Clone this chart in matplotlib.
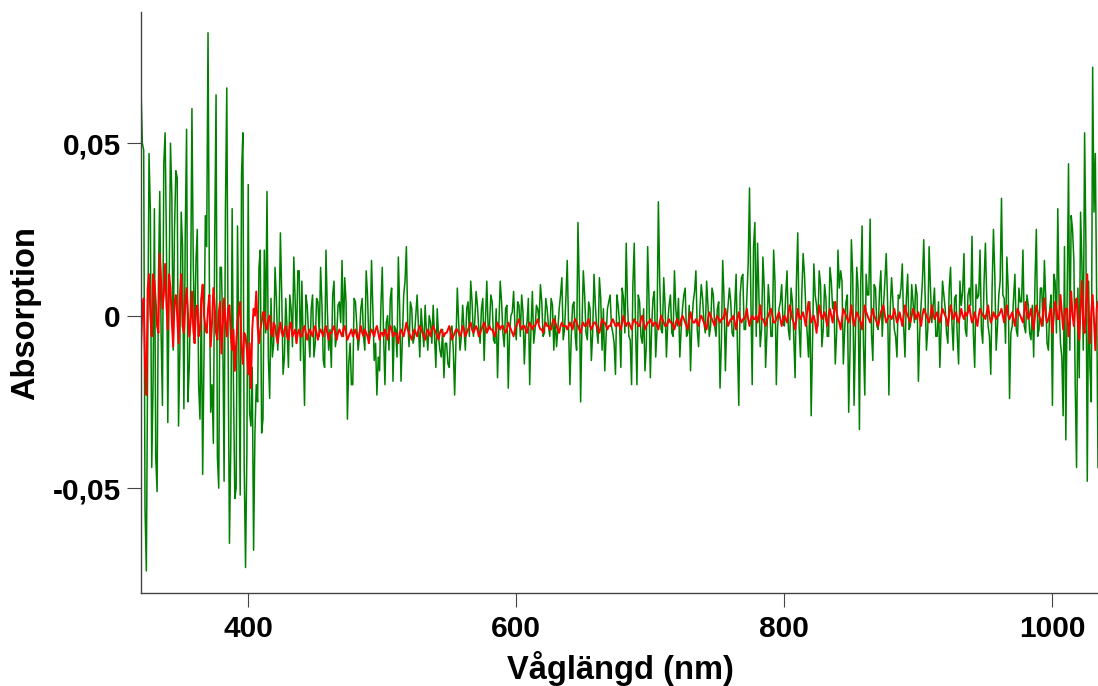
import numpy as np
import matplotlib
matplotlib.use("Agg")
import matplotlib.pyplot as plt
from matplotlib.ticker import FixedLocator, FixedFormatter

# ---- data: absorbance in units of 0.001, one value per nm from 320 to 1034 nm ----
# "even" lists hold 320, 322, ... nm ; "odd" lists hold 321, 323, ... nm
wl_start, wl_stop = 320, 1034

green_320 = [66, 48, -74, 47, -44, 31, -51, 36, -26, 53,
             -31, 50, -10, 42, -32, 30, -27, 54, -15, 60,
             -8, 25, -30, -46, 29, 82, -28, -37, 64, -50,
             14, -48, 66, -66, 31, -53, 26, -52, 53, -73]
green_400 = [38, -32, -68, -20, 14, -34, 19, 36, -24, -12,
             14, -10, 24, -17, 5, -15, 2, 17, -8, 13,
             10, -26, 3, -12, 6, -8, 4, 14, -13, 19,
             -10, -15, 10, -6, 4, 16, 11, -30, -8, -20]
green_480 = [4, -10, 2, -6, 13, -8, 16, -13, -23, -16,
             14, -20, 0, 5, -19, -4, 17, -19, 6, 20,
             -9, 2, -6, 6, -12, -4, 3, -10, -2, 3,
             -15, -6, -12, -18, -8, -15, -3, -23, 8, -10]
green_560 = [3, -10, 4, 10, -6, 7, -4, 2, -13, 10,
             -3, 4, -8, -18, 10, -5, 2, -21, 0, 7,
             -7, 3, 6, -14, -2, -20, 7, -4, 2, 9,
             -6, 5, -3, 5, -10, -9, 2, 11, -4, 16]
green_640 = [-20, 3, -6, 27, -25, 13, -5, 4, -13, 12,
             -4, 11, -10, -16, 2, 6, -5, -17, 3, -15,
             5, 21, -6, -20, 21, -20, 4, -8, -16, 20,
             -18, 5, -12, 33, -4, 11, -12, 3, -5, 13]
green_720 = [-3, -12, 2, 8, -5, -16, 4, 13, -9, 9,
             -2, 10, -6, 8, -3, 2, -21, 16, -16, 3,
             4, -6, 12, -26, 11, -4, 5, 37, -20, 27,
             21, -9, 17, -15, 9, -6, 19, -20, 2, 9]
green_800 = [-3, 13, -7, 4, -18, 24, -12, 18, 2, -12,
             -29, 15, 3, 13, -9, 9, -6, 14, 2, -14,
             19, 13, -14, 4, -28, 22, -26, 14, -33, 26,
             -23, 6, 28, -13, 8, -4, 13, 3, 18, -23]
green_880 = [11, -4, -12, 5, 15, -12, 12, -3, 4, 9,
             -19, 3, 22, -10, 20, -2, 8, -6, -15, 10,
             2, -8, 14, -10, 6, -14, 3, 18, -6, 8,
             23, -15, 5, 19, -8, 21, -3, -17, 25, -10]
green_960 = [6, 34, 5, 17, -24, -3, 12, -6, 4, 19,
             -5, 3, -7, -12, 25, -4, 8, 16, -8, 2,
             -26, 10, 31, -8, -29, -36, 44, 29, 16, -44,
             -18, 15, 53, -48, -15, 72, 47, -44]

green_321 = [50, -56, -10, 30, -20, -41, 10, -5, 44, 20,
             10, 35, 25, 40, -10, 20, 23, -25, 5, 15,
             16, -20, 5, -12, 20, 10, -20, 22, -41, 14,
             -5, 31, -10, -37, -20, -50, -10, 41, -44, -39]
green_401 = [-28, -15, -34, -25, 19, -30, -5, -12, 5, -8,
             5, -3, 6, -12, -4, 6, -9, 4, 13, -13,
             -8, 6, -5, 2, -12, 5, -6, 3, -15, 2,
             -4, 6, -9, 3, -2, -6, 4, -14, -20, 5]
green_481 = [-3, -6, 5, -10, 6, -4, 2, -8, -12, 3,
             -6, -2, -10, 8, -3, -12, 2, -6, 10, -2,
             4, -8, 0, -3, 2, -9, -5, 0, -8, -6,
             2, -10, -4, -8, -14, -4, -10, -8, -2, -6]
green_561 = [-4, 2, -6, 4, -2, 3, -8, 5, -1, -4,
             6, -7, 2, -3, 4, -9, 3, -5, 1, -3,
             4, -6, 1, -4, 5, -3, -8, 3, -2, 4,
             -5, 2, -6, 3, 0, -4, 6, -7, 5, -3]
green_641 = [-6, 4, -10, 8, -3, 6, -7, 2, -5, 3,
             -8, 5, 2, -6, 4, -3, -8, 6, -2, 8,
             -5, 3, -7, 9, -4, 6, -6, 2, -9, 5,
             -3, 7, -4, 10, -5, 3, -2, 6, -6, 2]
green_721 = [5, -4, 6, -6, 3, -2, 7, -4, 2, 5,
             -5, 3, -3, 6, -6, 4, -8, 5, -2, 8,
             -5, 3, -9, 6, 12, -4, 15, 5, 20, -6,
             6, -4, 8, -5, 3, -6, 10, -3, 4, -2]
green_801 = [6, -4, 8, -6, 10, -3, 6, 12, -5, 4,
             -8, 6, -3, 9, -4, 5, -6, 10, 4, -5,
             8, 10, -4, 6, -10, 12, -6, 8, 10, -8,
             12, 6, -5, 9, -3, 7, -6, 10, 4, 2]
green_881 = [4, -6, 6, 8, -3, 5, -4, 9, -2, 6,
             -5, 10, 6, -4, 8, 3, -6, 4, -3, 6,
             -5, 8, -2, 5, -6, 10, 7, -4, 6, 3,
             -5, 9, 6, -4, 10, 5, -6, 8, 12, -3]
green_961 = [10, 6, -8, 8, -5, 5, -4, 8, 4, -3,
             6, -5, 3, 10, -6, 8, -3, 5, -10, 6,
             12, -5, 3, -12, 20, 6, -10, 25, -20, 8,
             30, -10, 20, 10, -25, 30, 5]

red_320 = [-10, 5, -23, 12, -6, 10, -3, 18, 2, 15,
           -4, 8, -9, 6, -8, 12, -5, 8, -6, 7,
           -8, 3, -4, 9, -3, 2, -9, 8, -5, 1,
           -11, 5, -6, 3, -10, -16, -2, 4, -14, -6]
red_400 = [-17, -21, 2, 7, -8, -2, 1, -4, 0, -6,
           -3, -8, -2, -6, -3, -7, -2, -5, -8, -4,
           -6, -3, -7, -4, -6, -3, -7, -4, -6, -3,
           -7, -5, -3, -7, -4, -6, -3, -7, -5, -6]
red_480 = [-4, -7, -3, -6, -5, -8, -4, -6, -3, -7,
           -5, -4, -7, -3, -6, -5, -8, -4, -6, -2,
           -5, -7, -4, -6, -3, -5, -7, -4, -6, -3,
           -5, -7, -4, -6, -5, -3, -7, -5, -4, -6]
red_560 = [-3, -6, -4, -2, -5, -3, -6, -4, -2, -5,
           -3, -4, -6, -2, -4, -3, -5, -2, -4, -6,
           -3, -1, -4, -3, -5, -2, -4, -3, -1, -4,
           -5, -2, -3, -4, -1, -3, -5, -2, -3, -4]
red_640 = [-2, -4, -1, -3, -5, -2, -3, -1, -4, -2,
           -3, -5, -1, -2, -4, -3, -1, -3, -2, -4,
           0, -3, -2, -4, -1, -2, -3, 0, -4, -2,
           -1, -3, -2, -4, 0, -2, -3, -1, -2, -4]
red_720 = [-1, -3, 0, -2, -4, 1, -2, -1, -3, 0,
           -2, -4, 1, -1, -3, 0, -2, -1, 2, -3,
           -1, 0, -4, 1, -2, -1, 2, -3, 0, -1,
           -2, 3, -1, -3, 0, 2, -2, -1, 1, -3]
red_800 = [0, -2, 3, -1, -4, 2, -1, 1, -3, 4,
           -2, 0, -5, 3, -1, 1, -3, 2, -2, 4,
           -1, -4, 2, 0, -2, 3, -3, 1, -1, -4,
           3, 0, -2, 2, -1, -3, 1, 3, -2, 0]
red_880 = [-1, 2, -2, 1, -3, 3, 0, -2, 2, -1,
           1, -3, 2, 0, -2, 3, -1, 1, -2, 2,
           0, -3, 3, -1, 1, -2, 2, -1, 0, 3,
           -2, 1, -3, 2, 0, -1, 3, -2, 1, -1]
red_960 = [0, 2, -2, 3, -1, 1, -3, 2, 0, -2,
           4, -1, 2, -4, 3, 0, -3, 5, -2, 1,
           -5, 4, -1, 6, -4, 2, -6, 7, -3, 5,
           -7, 10, -5, 12, -8, 6, -10, 4]

red_321 = [2, -14, 8, 0, 12, 4, -5, 10, 6, 3,
           12, -2, 4, 0, 5, -3, 3, 1, -2, -4,
           2, -6, 5, 0, -5, 6, -2, 3, -7, 4,
           -3, -2, 2, -6, -4, -8, 1, -9, -5, -10]
red_401 = [-8, -4, 0, -3, -4, 1, -3, -1, -5, -2,
           -6, -4, -5, -4, -6, -3, -6, -4, -5, -6,
           -4, -5, -5, -5, -4, -5, -5, -5, -4, -5,
           -5, -4, -5, -5, -5, -4, -5, -6, -4, -5]
red_481 = [-6, -5, -5, -4, -6, -5, -5, -4, -5, -5,
           -6, -5, -5, -4, -5, -6, -5, -5, -4, -4,
           -6, -5, -5, -4, -4, -6, -5, -5, -4, -4,
           -6, -5, -5, -5, -4, -5, -6, -4, -5, -5]
red_561 = [-4, -5, -3, -4, -4, -4, -5, -3, -3, -4,
           -4, -5, -4, -3, -3, -4, -4, -3, -5, -4,
           -2, -3, -3, -4, -3, -3, -3, -2, -3, -4,
           -3, -3, -4, -2, -2, -4, -3, -3, -3, -3]
red_641 = [-3, -2, -2, -4, -3, -3, -2, -3, -3, -2,
           -4, -3, -2, -3, -3, -2, -2, -3, -3, -2,
           -2, -2, -3, -2, -2, -3, -1, -2, -3, -2,
           -2, -2, -3, -2, -1, -3, -2, -2, -3, -2]
red_721 = [-2, -1, -1, -3, -1, -1, -2, -2, -1, -1,
           -3, -1, 0, -2, -1, -1, -1, 0, -1, -2,
           -1, -2, -1, -1, -1, 0, -1, -1, -1, 0,
           0, -1, -2, -1, 1, 0, -2, 0, -1, -1]
red_801 = [-1, 1, 1, -2, -1, 0, 0, -1, 1, 1,
           -1, -2, -1, 1, 0, -1, 0, 0, 1, 1,
           -2, -1, 1, -1, 0, -1, -1, 0, -2, 0,
           1, -1, 0, 0, -2, -1, 2, 0, -1, 0]
red_881 = [0, 0, -1, -1, 0, 1, -1, 0, 1, 0,
           -1, 0, 1, -1, 0, 1, 0, -1, 0, 1,
           -1, 0, 1, 0, -1, 0, 0, 1, 1, 0,
           -1, -1, 0, 1, 0, 1, 0, -1, 0, 0]
red_961 = [1, 0, 1, 0, 0, -1, 0, 1, -1, 1,
           1, 0, -1, 0, 1, -1, 1, 0, -1, 2,
           0, 2, -1, 1, 0, 2, -2, 0, 3, -2,
           2, -2, 3, -2, 1, -1, 2]

x_ticks = [400, 600, 800, 1000]
x_tick_labels = ["400", "600", "800", "1000"]
y_ticks = [-0.05, 0.0, 0.05]
y_tick_labels = ["-0,05", "0", "0,05"]
x_label = "Våglängd (nm)"
y_label = "Absorption"


# ---- assemble ----
def interleave(even, odd):
    out = np.empty(len(even) + len(odd), dtype=float)
    out[0::2] = even
    out[1::2] = odd
    return 0.001 * out


wavelength = np.arange(wl_start, wl_stop + 1, 1)
green = interleave(green_320 + green_400 + green_480 + green_560 + green_640 +
                   green_720 + green_800 + green_880 + green_960,
                   green_321 + green_401 + green_481 + green_561 + green_641 +
                   green_721 + green_801 + green_881 + green_961)
red = interleave(red_320 + red_400 + red_480 + red_560 + red_640 +
                 red_720 + red_800 + red_880 + red_960,
                 red_321 + red_401 + red_481 + red_561 + red_641 +
                 red_721 + red_801 + red_881 + red_961)

plt.rcParams['font.family'] = ['Liberation Sans', 'DejaVu Sans']

W, H = 1098, 686
fig = plt.figure(figsize=(W / 100, H / 100), dpi=100)
ax_l, ax_r, ax_t, ax_b = 141, 1098, 11.7, 592.7
ax = fig.add_axes([ax_l / W, 1 - ax_b / H, (ax_r - ax_l) / W, (ax_b - ax_t) / H])

ax.plot(wavelength, green, color='#008000', lw=1.1)
ax.plot(wavelength, red, color='#ff0000', lw=1.4)

ax.set_xlim(320, 1034)
ax.set_ylim(-0.0803, 0.0881)

for s in ['top', 'right']:
    ax.spines[s].set_visible(False)
for s in ['left', 'bottom']:
    ax.spines[s].set_color('#444444')
    ax.spines[s].set_linewidth(1.0)

ax.xaxis.set_major_locator(FixedLocator(x_ticks))
ax.xaxis.set_major_formatter(FixedFormatter(x_tick_labels))
ax.yaxis.set_major_locator(FixedLocator(y_ticks))
ax.yaxis.set_major_formatter(FixedFormatter(y_tick_labels))
ax.tick_params(axis='both', direction='out', length=10, width=0.8, color='#444444',
               labelsize=21.5, labelcolor='black')
ax.tick_params(axis='x', pad=6)
ax.tick_params(axis='y', pad=4.5)
for lab in ax.get_xticklabels() + ax.get_yticklabels():
    lab.set_fontweight('bold')

fig.text(620 / W, 1 - 668 / H, x_label, ha='center', va='center',
         fontsize=23.5, fontweight='bold')
fig.text(26 / W, 1 - 313 / H, y_label, ha='center', va='center', rotation=90,
         fontsize=23.5, fontweight='bold')

fig.savefig('out.png', dpi=100)
